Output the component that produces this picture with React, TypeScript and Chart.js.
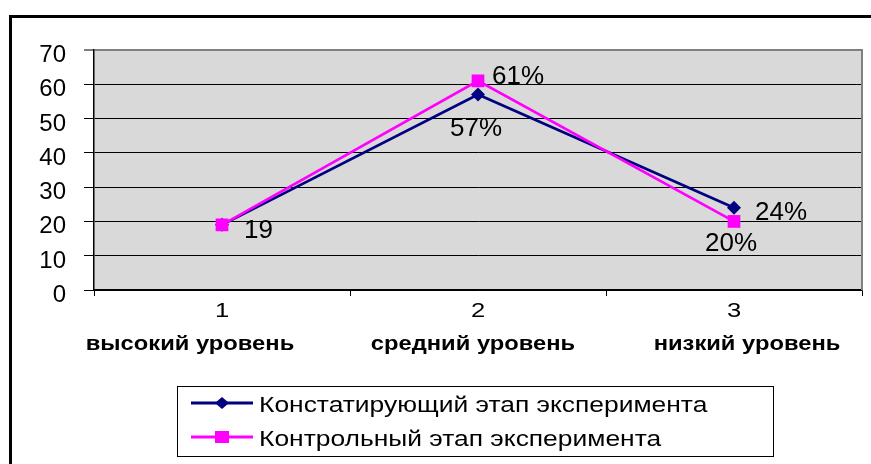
import React, { useEffect, useRef } from "react";
import { Chart, registerables } from "chart.js";

Chart.register(...registerables);

// ---------- data ----------
const categories = ["1", "2", "3"];
const levelNames = ["высокий уровень", "средний уровень", "низкий уровень"];
const seriesNames = [
  "Констатирующий этап эксперимента",
  "Контрольный этап эксперимента",
];
const ascertainingValues = [19, 57, 24];
const controlValues = [19, 61, 20];
const ascertainingLabels = ["", "57%", "24%"];
const controlLabels = ["19", "61%", "20%"];
const yMin = 0;
const yMax = 70;
const yStep = 10;

// ---------- styles ----------
const FONT = '"Liberation Sans", Arial, Helvetica, sans-serif';
const NAVY = "#000080";
const MAGENTA = "#FF00FF";
const PLOT_BG = "#D9D9D9";

// label placement relative to point (dy = visual digit-center offset)
const ascertainingLabelPos = [
  null,
  { dx: -2, dy: 32, align: "center" },
  { dx: 21, dy: 3, align: "left" },
];
const controlLabelPos = [
  { dx: 22, dy: 4, align: "left" },
  { dx: 14, dy: -6, align: "left" },
  { dx: -3, dy: 21, align: "center" },
];
const levelNameOffsets = [-32, -5, 13];

function fillScaled(
  ctx: CanvasRenderingContext2D,
  text: string,
  x: number,
  y: number,
  sx: number,
  align: CanvasTextAlign
) {
  ctx.save();
  ctx.translate(x, y);
  ctx.scale(sx, 1);
  ctx.textAlign = align;
  ctx.textBaseline = "alphabetic";
  ctx.fillText(text, 0, 0);
  ctx.restore();
}

const excelPlugin = {
  id: "excelLook",
  beforeDraw(chart: any) {
    const { ctx, chartArea: a } = chart;
    ctx.save();
    ctx.fillStyle = "#ffffff";
    ctx.fillRect(0, 0, chart.width, chart.height);
    // outer chart frame
    ctx.fillStyle = "#000000";
    ctx.fillRect(9, 15, chart.width, 3);
    ctx.fillRect(9, 15, 3, chart.height);
    // plot area
    ctx.fillStyle = PLOT_BG;
    ctx.fillRect(a.left, a.top, a.right - a.left, a.bottom - a.top);
    ctx.restore();
  },
  beforeDatasetsDraw(chart: any) {
    const { ctx, chartArea: a } = chart;
    ctx.save();
    ctx.strokeStyle = "#808080";
    ctx.lineWidth = 2;
    ctx.beginPath();
    ctx.moveTo(a.right, a.top - 1);
    ctx.lineTo(a.right, a.bottom);
    ctx.stroke();
    ctx.restore();
  },
  afterDatasetsDraw(chart: any) {
    const { ctx } = chart;
    ctx.save();
    ctx.fillStyle = "#000";

    // value axis labels
    const ys = chart.scales.y;
    ctx.font = `24px ${FONT}`;
    ys.ticks.forEach((t: any) => {
      const y = ys.getPixelForValue(t.value);
      fillScaled(ctx, String(t.value), 66, y + 12, 1, "right");
    });

    // data labels
    const fs = 25;
    ctx.font = `${fs}px ${FONT}`;
    const labelSets = [
      { labels: ascertainingLabels, pos: ascertainingLabelPos },
      { labels: controlLabels, pos: controlLabelPos },
    ];
    labelSets.forEach((set, di) => {
      const meta = chart.getDatasetMeta(di);
      meta.data.forEach((pt: any, i: number) => {
        const text = set.labels[i];
        const p: any = set.pos[i];
        if (!text || !p) return;
        fillScaled(ctx, text, pt.x + p.dx, pt.y + p.dy + fs * 0.358, 1.04, p.align);
      });
    });

    // category axis labels
    const xs = chart.scales.x;
    categories.forEach((c, i) => {
      const x = xs.getPixelForValue(i);
      ctx.font = `21px ${FONT}`;
      fillScaled(ctx, c, x, 317, 1.22, "center");
      ctx.font = `bold 21px ${FONT}`;
      fillScaled(ctx, levelNames[i], x + levelNameOffsets[i], 350, 1.13, "center");
    });

    // legend
    const lx = 177.5, ly = 386.5, lw = 596, lh = 70;
    ctx.strokeStyle = "#000";
    ctx.lineWidth = 1;
    ctx.strokeRect(lx, ly, lw, lh);
    const rows = [403, 437];
    chart.data.datasets.forEach((ds: any, di: number) => {
      const y = rows[di];
      ctx.strokeStyle = ds.borderColor;
      ctx.lineWidth = 3;
      ctx.beginPath();
      ctx.moveTo(191, y);
      ctx.lineTo(253, y);
      ctx.stroke();
      ctx.fillStyle = ds.borderColor;
      ctx.beginPath();
      if (ds.pointStyle === "rectRot") {
        ctx.moveTo(222, y - 6);
        ctx.lineTo(229, y);
        ctx.lineTo(222, y + 6);
        ctx.lineTo(215, y);
        ctx.closePath();
      } else {
        ctx.rect(215, y - 6, 14, 12);
      }
      ctx.fill();
      ctx.fillStyle = "#000";
      ctx.font = `22px ${FONT}`;
      fillScaled(ctx, seriesNames[di], 259, y + 9, 1.2, "left");
    });
    ctx.restore();
  },
};

export default function App() {
  const ref = useRef<HTMLCanvasElement | null>(null);
  useEffect(() => {
    if (!ref.current) return;
    const chart = new Chart(ref.current, {
      type: "line",
      data: {
        labels: categories,
        datasets: [
          {
            label: seriesNames[0],
            data: ascertainingValues,
            borderColor: NAVY,
            backgroundColor: NAVY,
            borderWidth: 2.7,
            pointStyle: "rectRot",
            pointRadius: 7,
            pointBorderWidth: 0,
            tension: 0,
            order: 1,
          },
          {
            label: seriesNames[1],
            data: controlValues,
            borderColor: MAGENTA,
            backgroundColor: MAGENTA,
            borderWidth: 2.7,
            pointStyle: "rect",
            pointRadius: 9,
            pointBorderWidth: 0,
            tension: 0,
            order: 0,
          },
        ],
      },
      options: {
        animation: false,
        responsive: true,
        maintainAspectRatio: false,
        layout: { padding: { left: 0, right: 9, top: 50, bottom: 0 } },
        plugins: {
          legend: { display: false },
          tooltip: { enabled: false },
          title: { display: false },
        },
        scales: {
          x: {
            type: "category",
            offset: true,
            grid: {
              display: true,
              drawOnChartArea: false,
              drawTicks: true,
              tickLength: 6,
              offset: true,
              color: "#000",
            },
            border: { display: true, color: "#000", width: 1.5 },
            ticks: { display: false },
            afterFit: (s: any) => {
              s.height = 174;
            },
          },
          y: {
            min: yMin,
            max: yMax,
            ticks: {
              stepSize: yStep,
              display: false,
            },
            grid: {
              color: (c: any) => (c.tick && c.tick.value === yMax ? "#808080" : "#000"),
              lineWidth: (c: any) => (c.tick && c.tick.value === yMax ? 2 : 1),
              tickColor: "#000",
              tickWidth: 1,
              tickLength: 10,
              drawTicks: true,
            },
            border: { display: true, color: "#000", width: 1.5 },
            afterFit: (s: any) => {
              s.width = 94;
            },
          },
        },
      },
      plugins: [excelPlugin],
    });
    return () => chart.destroy();
  }, []);

  return (
    <div style={{ position: "fixed", left: 0, top: 0, width: 871, height: 464 }}>
      <canvas ref={ref} />
    </div>
  );
}
